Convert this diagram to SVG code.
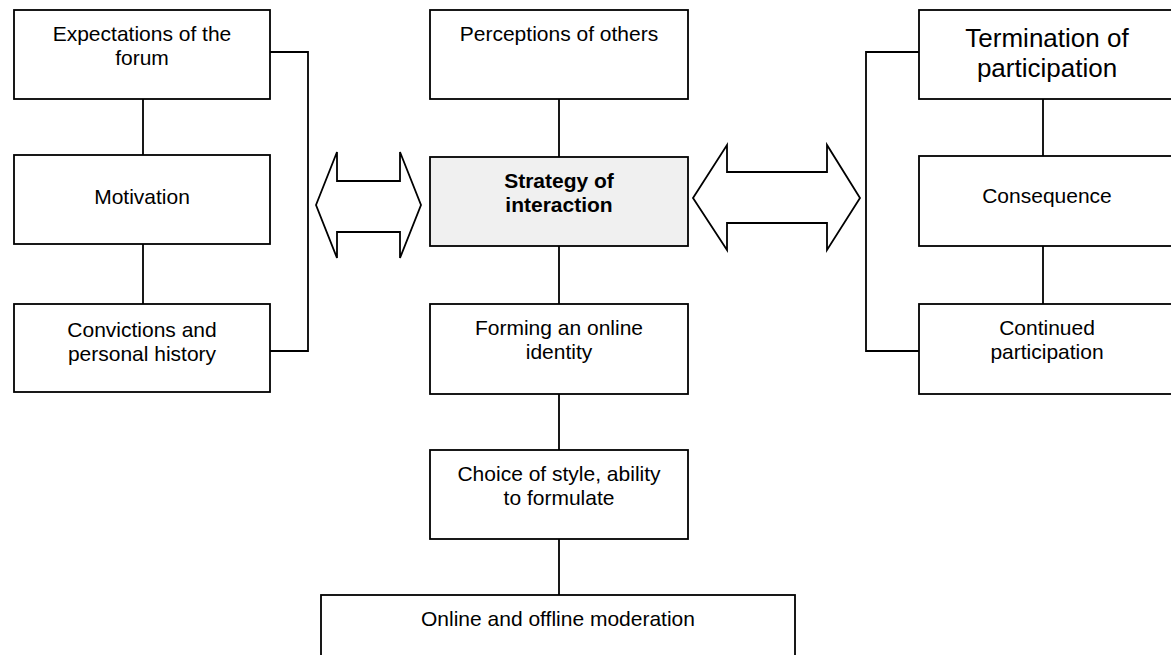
<svg xmlns="http://www.w3.org/2000/svg" width="1171" height="655" viewBox="0 0 1171 655">
<style>
.box{fill:#fff;stroke:#000;stroke-width:1.8}
.hl{fill:#f0f0f0}
.t{font-family:"Liberation Sans",Arial,sans-serif;font-size:21px;fill:#000;text-anchor:middle}
.b{font-weight:bold}
.big{font-size:26px}
.c{fill:none;stroke:#000;stroke-width:1.8}
</style>
<rect width="1171" height="655" fill="#fff"/>
<g id="connectors">
<path class="c" d="M143 99V155M143 244V304"/>
<path class="c" d="M270 52H308V351H270"/>
<path class="c" d="M559 99V157M559 246V304M559 394V450M559 539V595"/>
<path class="c" d="M1043 99V156M1043 246V304"/>
<path class="c" d="M919 52H866V351H919"/>
<polygon class="c" fill="#fff" points="316,205 337,152 337,181 400,181 400,152 421,205 400,258 400,232 337,232 337,258"/>
<polygon class="c" fill="#fff" points="693,198 727,145 727,172 827,172 827,145 860,198 827,250 827,223 727,223 727,250"/>
</g>
<g id="expectations"><rect class="box" x="14" y="10" width="256" height="89"/><text class="t" x="142" y="41">Expectations of the</text><text class="t" x="142" y="65">forum</text></g>
<g id="motivation"><rect class="box" x="14" y="155" width="256" height="89"/><text class="t" x="142" y="204">Motivation</text></g>
<g id="convictions"><rect class="box" x="14" y="304" width="256" height="88"/><text class="t" x="142" y="337">Convictions and</text><text class="t" x="142" y="361">personal history</text></g>
<g id="perceptions"><rect class="box" x="430" y="10" width="258" height="89"/><text class="t" x="559" y="41">Perceptions of others</text></g>
<g id="strategy"><rect class="box hl" x="430" y="157" width="258" height="89"/><text class="t b" x="559" y="188">Strategy of</text><text class="t b" x="559" y="212">interaction</text></g>
<g id="forming"><rect class="box" x="430" y="304" width="258" height="90"/><text class="t" x="559" y="335">Forming an online</text><text class="t" x="559" y="359">identity</text></g>
<g id="choice"><rect class="box" x="430" y="450" width="258" height="89"/><text class="t" x="559" y="481">Choice of style, ability</text><text class="t" x="559" y="505">to formulate</text></g>
<g id="moderation"><rect class="box" x="321" y="595" width="474" height="80"/><text class="t" x="558" y="626">Online and offline moderation</text></g>
<g id="termination"><rect class="box" x="919" y="10" width="258" height="89"/><text class="t big" x="1047" y="47">Termination of</text><text class="t big" x="1047" y="77">participation</text></g>
<g id="consequence"><rect class="box" x="919" y="156" width="258" height="90"/><text class="t" x="1047" y="203">Consequence</text></g>
<g id="continued"><rect class="box" x="919" y="304" width="258" height="90"/><text class="t" x="1047" y="335">Continued</text><text class="t" x="1047" y="359">participation</text></g>
</svg>
